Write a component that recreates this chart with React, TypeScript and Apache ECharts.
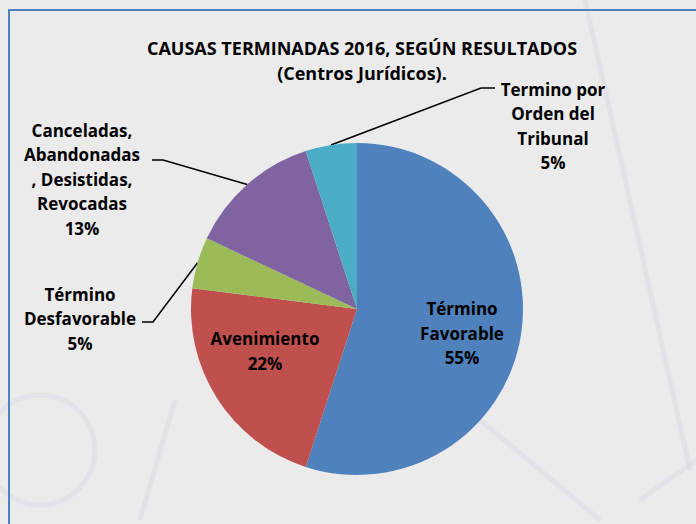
import React, { useEffect, useRef } from "react";
import * as echarts from "echarts";

const categories = [
  "Término\nFavorable",
  "Avenimiento",
  "Término\nDesfavorable",
  "Canceladas,\nAbandonadas\n, Desistidas,\nRevocadas",
  "Termino por\nOrden del\nTribunal",
];
const values = [55, 22, 5, 13, 5];
const colors = ["#4F81BD", "#C0504D", "#9BBB59", "#8064A2", "#4BACC6"];
const titleLines = ["CAUSAS TERMINADAS 2016, SEGÚN RESULTADOS", "(Centros Jurídicos)."];

const FONT = "'Open Sans', Lato, sans-serif";

export default function App() {
  const ref = useRef<HTMLDivElement>(null);
  useEffect(() => {
    document.body.style.margin = "0";
    const chart = echarts.init(ref.current!, null, { renderer: "svg" });
    const faint = { stroke: "rgba(210,210,225,0.35)", lineWidth: 5, fill: "none" };
    chart.setOption({
      animation: false,
      backgroundColor: "#ebebeb",
      title: {
        text: titleLines.join("\n"),
        left: 357,
        top: 30,
        textAlign: "center",
        textStyle: {
          fontFamily: FONT,
          fontWeight: "bold",
          fontSize: 18,
          lineHeight: 25,
          color: "#000",
        },
      },
      graphic: [
        { type: "line", silent: true, z: -10, shape: { x1: 585, y1: 0, x2: 690, y2: 470 }, style: faint },
        { type: "line", silent: true, z: -10, shape: { x1: 140, y1: 520, x2: 175, y2: 400 }, style: faint },
        { type: "circle", silent: true, z: -10, shape: { cx: 40, cy: 450, r: 55 }, style: faint },
        { type: "line", silent: true, z: -10, shape: { x1: 480, y1: 420, x2: 600, y2: 520 }, style: faint },
        { type: "line", silent: true, z: -10, shape: { x1: 640, y1: 500, x2: 696, y2: 460 }, style: faint },
        {
          type: "rect",
          silent: true,
          z: 1,
          shape: { x: 9, y: 10, width: 720, height: 540 },
          style: { fill: "none", stroke: "#4F81BD", lineWidth: 2 },
        },
      ],
      series: [
        {
          type: "pie",
          center: [357, 309],
          radius: 166,
          startAngle: 90,
          clockwise: true,
          avoidLabelOverlap: false,
          color: colors,
          itemStyle: { borderWidth: 0 },
          label: {
            show: true,
            position: "outside",
            fontFamily: FONT,
            fontWeight: "bold",
            fontSize: 17,
            lineHeight: 24.5,
            color: "#000",
            align: "center",
            formatter: (p: any) => `${p.name}\n${Math.round(p.percent)}%`,
          },
          labelLine: {
            show: true,
            length: 10,
            length2: 10,
            lineStyle: { color: "#000", width: 1.5 },
          },
          labelLayout: (p: any) => {
            const e = p.labelLinePoints ? p.labelLinePoints[0] : [0, 0];
            switch (p.dataIndex) {
              case 0:
                return { x: 462, y: 333, align: "center", verticalAlign: "middle" };
              case 1:
                return { x: 265, y: 351, align: "center", verticalAlign: "middle" };
              case 2:
                return {
                  x: 80,
                  y: 282,
                  align: "center",
                  verticalAlign: "top",
                  labelLinePoints: [e, [153, 322], [142, 322]],
                };
              case 3:
                return {
                  x: 82,
                  y: 118,
                  align: "center",
                  verticalAlign: "top",
                  labelLinePoints: [e, [163, 160], [152, 160]],
                };
              case 4:
                return {
                  x: 553,
                  y: 77,
                  align: "center",
                  verticalAlign: "top",
                  labelLinePoints: [e, [481, 88], [495, 88]],
                };
            }
            return {};
          },
          data: categories.map((name, i) => ({
            name,
            value: values[i],
            label: i < 2 ? { position: "inside" } : undefined,
            labelLine: i < 2 ? { show: false } : undefined,
          })),
        },
      ],
    });
    return () => chart.dispose();
  }, []);
  return (
    <div
      ref={ref}
      style={{ position: "absolute", left: 0, top: 0, width: 696, height: 524 }}
    />
  );
}
